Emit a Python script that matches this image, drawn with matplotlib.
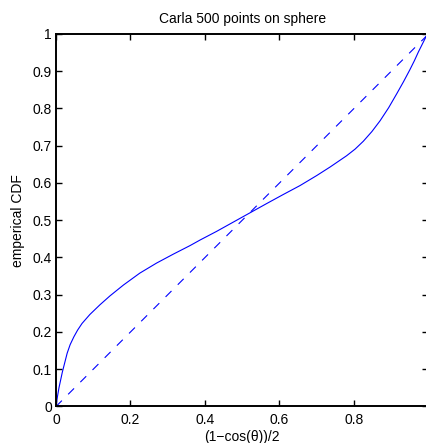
import numpy as np
import matplotlib
matplotlib.use("Agg")
import matplotlib.pyplot as plt

plt.rcParams['font.family'] = ['Liberation Sans', 'DejaVu Sans']

# empirical CDF of (1-cos(theta))/2 for the point set
cdf_x = [0.0, 0.004, 0.008, 0.017, 0.030, 0.038, 0.048, 0.058, 0.070, 0.091,
         0.118, 0.145, 0.181, 0.225, 0.270, 0.315, 0.360, 0.387, 0.431, 0.476,
         0.530, 0.566, 0.610, 0.655, 0.700, 0.736, 0.780, 0.803, 0.825, 0.848,
         0.870, 0.893, 0.915, 0.933, 0.950, 0.962, 0.973, 0.986, 0.997]
cdf_y = [0.0, 0.027, 0.050, 0.092, 0.143, 0.166, 0.187, 0.205, 0.223, 0.247,
         0.273, 0.297, 0.326, 0.358, 0.385, 0.409, 0.432, 0.447, 0.470, 0.495,
         0.525, 0.545, 0.569, 0.593, 0.620, 0.643, 0.673, 0.691, 0.712, 0.738,
         0.767, 0.802, 0.840, 0.872, 0.904, 0.928, 0.952, 0.978, 1.0]

# uniform reference
ref_x = [0, 1]
ref_y = [0, 1]

xticks = [0, 0.2, 0.4, 0.6, 0.8, 1]
yticks = [0, 0.1, 0.2, 0.3, 0.4, 0.5, 0.6, 0.7, 0.8, 0.9, 1]

fig = plt.figure(figsize=(4.27, 4.43), dpi=100)
ax = fig.add_axes([0.1311, 0.0824, 0.8724, 0.8409])

ax.plot(cdf_x, cdf_y, color=(0, 0, 1), linewidth=0.8)
ax.plot(ref_x, ref_y, color=(0, 0, 1), linewidth=0.8, dashes=(7.5, 8))

ax.set_xlim(0, 1)
ax.set_ylim(0, 1)
ax.set_xticks(xticks)
ax.set_yticks(yticks)
ax.set_xticklabels(['%g' % t for t in xticks])
ax.set_yticklabels(['%g' % t for t in yticks])
ax.tick_params(direction='in', length=4, width=1, labelsize=10,
               top=True, right=True, colors='black')
ax.tick_params(axis='x', pad=5)
ax.tick_params(axis='y', pad=3)

for s in ax.spines.values():
    s.set_linewidth(1.4)

ax.set_title('Carla 500 points on sphere', fontsize=10, pad=8)
ax.set_xlabel('(1\u2212cos(\u03b8))/2', fontsize=10, labelpad=2)
ax.set_ylabel('emperical CDF', fontsize=10, labelpad=5)

fig.savefig('out.png', dpi=100)
